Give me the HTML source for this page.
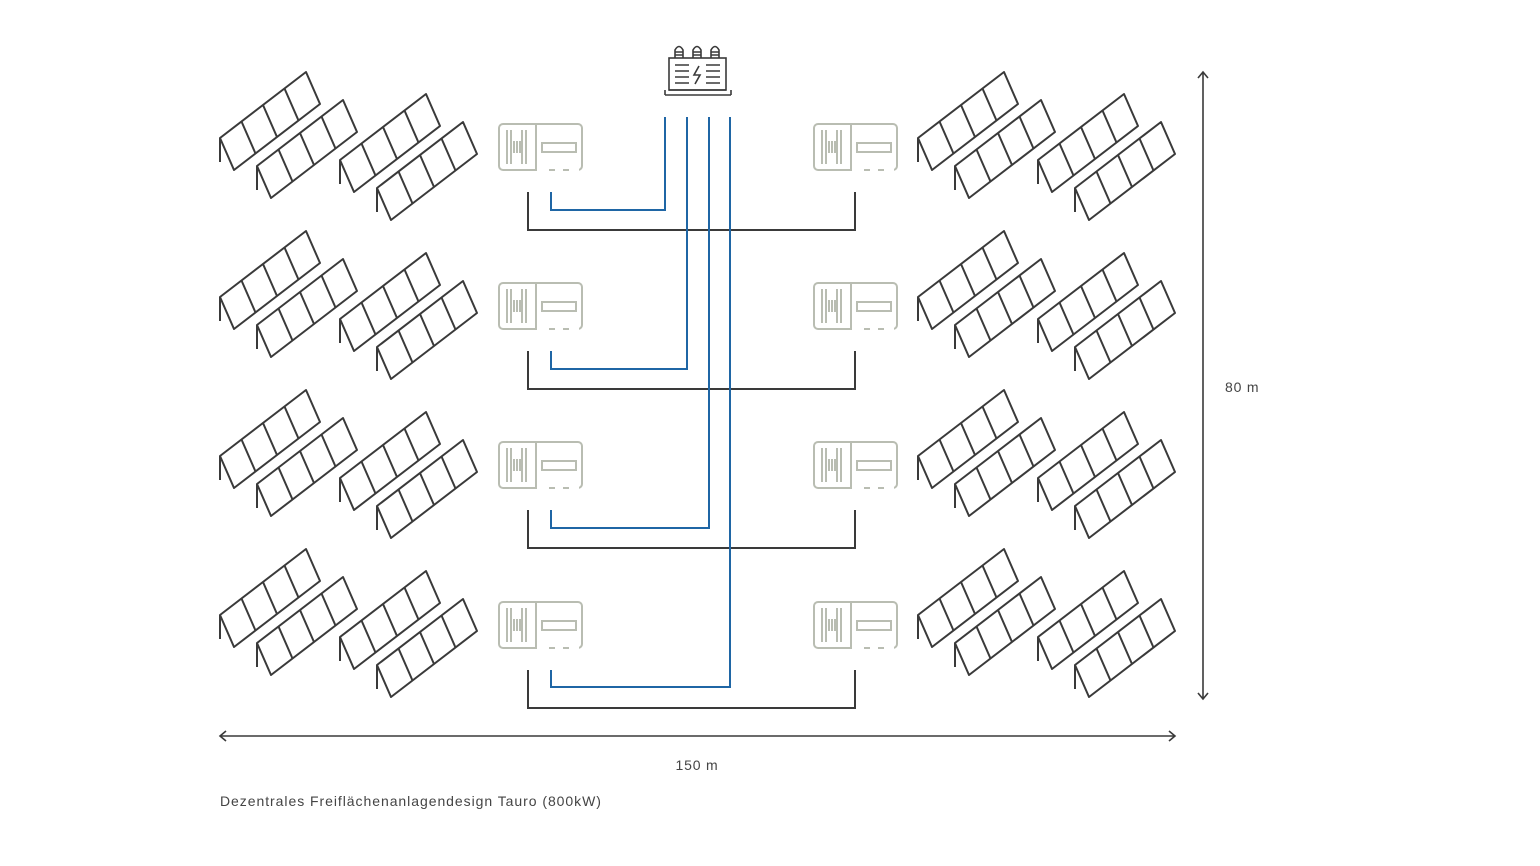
<!DOCTYPE html>
<html><head><meta charset="utf-8"><style>
body{margin:0;background:#fff;}
svg{display:block;}
text{font-family:"Liberation Sans",sans-serif;fill:#444;}
</style></head><body>
<svg width="1540" height="866" viewBox="0 0 1540 866" xmlns="http://www.w3.org/2000/svg">
<defs>
<g id="pan" fill="none" stroke="#3a3a3a" stroke-width="2" stroke-linejoin="round">
<path d="M0 0 L86 -66 L100 -34 L14 32 Z M0 0 L0 24"/>
<path d="M21.5 -16.5 L35.5 15.5 M43 -33 L57 -1 M64.5 -49.5 L78.5 -17.5"/>
</g>
<g id="grp">
<use href="#pan" x="0" y="0"/>
<use href="#pan" x="37" y="28"/>
<use href="#pan" x="120" y="22"/>
<use href="#pan" x="157" y="50"/>
</g>
<g id="inv" fill="none" stroke="#b9bdb2" stroke-width="2">
<rect x="0" y="0" width="83" height="46" rx="4"/>
<path d="M37 0 V46"/>
<rect x="43" y="19" width="34" height="9"/>
<path d="M8 6 V40 M12 6 V40 M23 6 V40 M27 6 V40 M15 17 V29 M18 17 V29 M21 17 V29"/>
<path d="M38 46 H50 M56 46 H64 M70 46 H80" stroke="#fff" stroke-width="3"/>
<path d="M52 46 H54 M66 46 H68" />
</g>
</defs>

<g>
<use href="#grp" x="220" y="138"/>
<use href="#grp" x="220" y="297"/>
<use href="#grp" x="220" y="456"/>
<use href="#grp" x="220" y="615"/>
<use href="#grp" x="918" y="138"/>
<use href="#grp" x="918" y="297"/>
<use href="#grp" x="918" y="456"/>
<use href="#grp" x="918" y="615"/>
</g>

<use href="#inv" x="499" y="124"/><use href="#inv" x="814" y="124"/>
<use href="#inv" x="499" y="283"/><use href="#inv" x="814" y="283"/>
<use href="#inv" x="499" y="442"/><use href="#inv" x="814" y="442"/>
<use href="#inv" x="499" y="602"/><use href="#inv" x="814" y="602"/>

<g fill="none" stroke="#3a3a3a" stroke-width="2">
<path d="M528 192 V230 H855 V192"/>
<path d="M528 351 V389 H855 V351"/>
<path d="M528 510 V548 H855 V510"/>
<path d="M528 670 V708 H855 V670"/>
</g>
<g fill="none" stroke="#1f66a5" stroke-width="2">
<path d="M551 192 V210 H665 V117"/>
<path d="M551 351 V369 H687 V117"/>
<path d="M551 510 V528 H709 V117"/>
<path d="M551 670 V687 H730 V117"/>
</g>

<g fill="none" stroke="#3a3a3a" stroke-width="1.6">
<rect x="669" y="58" width="57" height="32"/>
<path d="M665 95 H731 M665 90 V95 M731 90 V95 M669 90 H726"/>
<path d="M675 65 H689 M675 71 H689 M675 77 H689 M675 83 H689 M706 65 H720 M706 71 H720 M706 77 H720 M706 83 H720"/>
<path d="M699 66 L694 75 L700 75 L695 84"/>
<g>
<path d="M675 58 V50 Q679 43 683 50 V58 M675 52 H683 M675 55 H683"/>
<path d="M693 58 V50 Q697 43 701 50 V58 M693 52 H701 M693 55 H701"/>
<path d="M711 58 V50 Q715 43 719 50 V58 M711 52 H719 M711 55 H719"/>
</g>
</g>

<g fill="none" stroke="#3a3a3a" stroke-width="1.6">
<path d="M1203 73 V698 M1198 78 L1203 72 L1208 78 M1198 693 L1203 699 L1208 693"/>
<path d="M220 736 H1175 M226 731 L220 736 L226 741 M1169 731 L1175 736 L1169 741"/>
</g>
<text x="1225" y="392" font-size="14" letter-spacing="0.8">80 m</text>
<text x="697" y="770" font-size="14" text-anchor="middle" letter-spacing="0.8">150 m</text>
<text x="220" y="806" font-size="14" fill="#555" letter-spacing="0.95">Dezentrales Freiflächenanlagendesign Tauro (800kW)</text>
</svg>
</body></html>
